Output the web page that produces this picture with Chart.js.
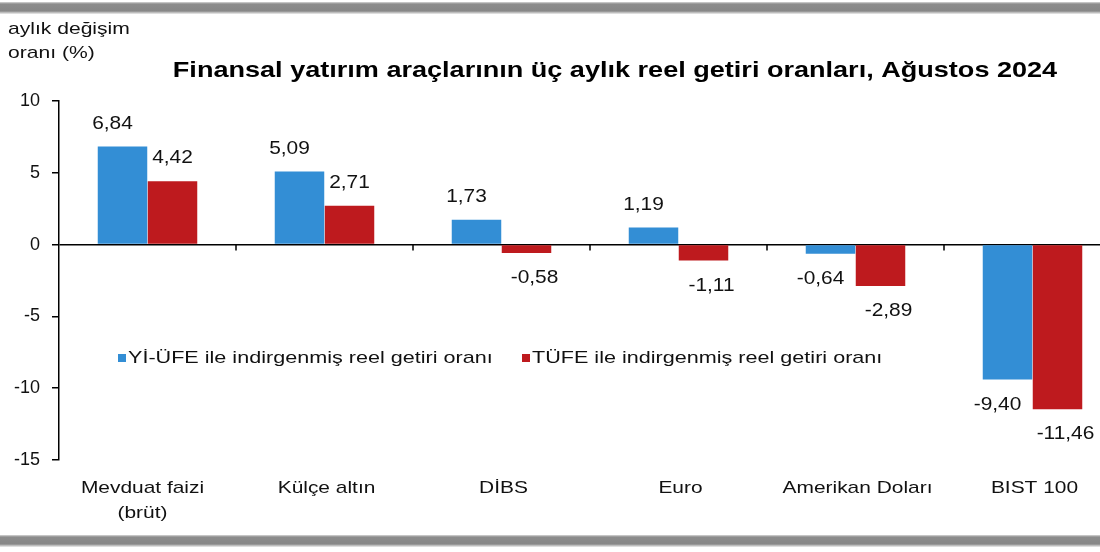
<!DOCTYPE html>
<html lang="tr">
<head>
<meta charset="utf-8">
<script src="https://cdn.jsdelivr.net/npm/chart.js@4.4.1/dist/chart.umd.min.js"></script>
<style>
  html, body { margin: 0; padding: 0; background: #fff; overflow: hidden; width: 1100px; height: 552px; }
  #wrap { position: relative; width: 1100px; height: 552px; overflow: hidden; }
  canvas { position: absolute; left: 0; top: 0; }
  .band { position: absolute; left: 0; width: 1100px; height: 12px;
          background: linear-gradient(#d8d8d8 0px, #8c8c8c 2px, #878787 9px, #cfcfcf 11px, #ececec 12px); }
</style>
</head>
<body>
<div id="wrap">
  <canvas id="c" width="1130" height="552"></canvas>
  <div class="band" style="top:2px"></div>
  <div class="band" style="top:535px"></div>
</div>
<script>
const chartTitle = "Finansal yatırım araçlarının üç aylık reel getiri oranları, Ağustos 2024";
const yAxisTitle = ["aylık değişim", "oranı (%)"];
const categories = [["Mevduat faizi", "(brüt)"], "Külçe altın", "DİBS", "Euro", "Amerikan Doları", "BIST 100"];
const seriesNames = ["Yİ-ÜFE ile indirgenmiş reel getiri oranı", "TÜFE ile indirgenmiş reel getiri oranı"];
const yiUfeValues = [6.84, 5.09, 1.73, 1.19, -0.64, -9.40];
const tufeValues = [4.42, 2.71, -0.58, -1.11, -2.89, -11.46];
const yTicks = { min: -15, max: 10, step: 5 };
const colors = ["#338ed5", "#be1a1e"];

const FONT = "'Liberation Sans', Arial, sans-serif";

function stretchText(ctx, text, x, y, align, sx) {
  ctx.save();
  ctx.translate(x, y);
  ctx.scale(sx, 1);
  ctx.textAlign = align;
  ctx.fillText(text, 0, 0);
  ctx.restore();
}

const decor = {
  id: 'decor',
  afterDraw(chart) {
    const ctx = chart.ctx;
    const xs = chart.scales.x, ys = chart.scales.y;
    ctx.save();
    ctx.textBaseline = 'middle';
    // title
    ctx.fillStyle = '#000';
    ctx.font = "bold 22px " + FONT;
    stretchText(ctx, chartTitle, 615, 71, 'center', 1.23);
    // y axis title
    ctx.font = "17px " + FONT;
    ctx.fillStyle = '#111';
    stretchText(ctx, yAxisTitle[0], 8, 29, 'left', 1.24);
    stretchText(ctx, yAxisTitle[1], 8, 53, 'left', 1.24);
    // category labels
    ctx.font = "17px " + FONT;
    categories.forEach((lab, i) => {
      const lines = Array.isArray(lab) ? lab : [lab];
      const cx = xs.getPixelForValue(i);
      lines.forEach((ln, k) => stretchText(ctx, ln, cx + (i === 0 ? -5 : 2), 488 + k * 25, 'center', 1.23));
    });
    // category ticks on zero line
    const y0 = ys.getPixelForValue(0);
    ctx.strokeStyle = '#000';
    ctx.lineWidth = 1.5;
    for (let i = 0; i < categories.length - 1; i++) {
      const xm = (xs.getPixelForValue(i) + xs.getPixelForValue(i + 1)) / 2;
      ctx.beginPath();
      ctx.moveTo(xm, y0);
      ctx.lineTo(xm, y0 + 6);
      ctx.stroke();
    }
    // data labels
    ctx.font = "19px " + FONT;
    ctx.fillStyle = '#111';
    chart.data.datasets.forEach((ds, di) => {
      const meta = chart.getDatasetMeta(di);
      meta.data.forEach((el, i) => {
        const v = ds.data[i];
        let dx = 0;
        if (di === 0) dx = -10; else if (v < 0) dx = 8;
        const y = v >= 0 ? el.y - 23 : el.y + 25;
        stretchText(ctx, v.toFixed(2).replace('.', ','), el.x + dx, y, 'center', 1.1);
      });
    });
    // legend
    ctx.font = "17px " + FONT;
    const legendPos = [[118, 358], [522, 358]];
    chart.data.datasets.forEach((ds, di) => {
      const [lx, ly] = legendPos[di];
      ctx.fillStyle = ds.backgroundColor;
      ctx.fillRect(lx, ly - 4, 8, 8);
      ctx.fillStyle = '#111';
      stretchText(ctx, ds.label, lx + 10, ly, 'left', 1.27);
    });
    ctx.restore();
  }
};

new Chart(document.getElementById('c'), {
  type: 'bar',
  data: {
    labels: categories,
    datasets: [
      { label: seriesNames[0], data: yiUfeValues, backgroundColor: colors[0], borderWidth: 0 },
      { label: seriesNames[1], data: tufeValues, backgroundColor: colors[1], borderWidth: 0 }
    ]
  },
  options: {
    responsive: false,
    devicePixelRatio: 1,
    animation: false,
    layout: { padding: { left: 0, top: 101, right: 9, bottom: 0 } },
    categoryPercentage: 0.565,
    barPercentage: 0.99,
    plugins: { legend: { display: false }, title: { display: false }, tooltip: { enabled: false } },
    scales: {
      x: {
        grid: { display: false },
        border: { display: false },
        ticks: { display: false },
        afterFit(s) { s.height = 92; }
      },
      y: {
        min: yTicks.min, max: yTicks.max,
        border: { display: true, color: '#000', width: 1.5 },
        grid: {
          color: c => (c.tick && c.tick.value === 0) ? '#000' : 'rgba(0,0,0,0)',
          lineWidth: 1.5,
          drawTicks: true, tickLength: 7, tickColor: '#000', tickWidth: 1.5
        },
        ticks: { stepSize: yTicks.step, color: '#111', font: { family: FONT, size: 18 }, padding: 12 },
        afterFit(s) { s.width = 59; }
      }
    }
  },
  plugins: [decor]
});
</script>
</body>
</html>
